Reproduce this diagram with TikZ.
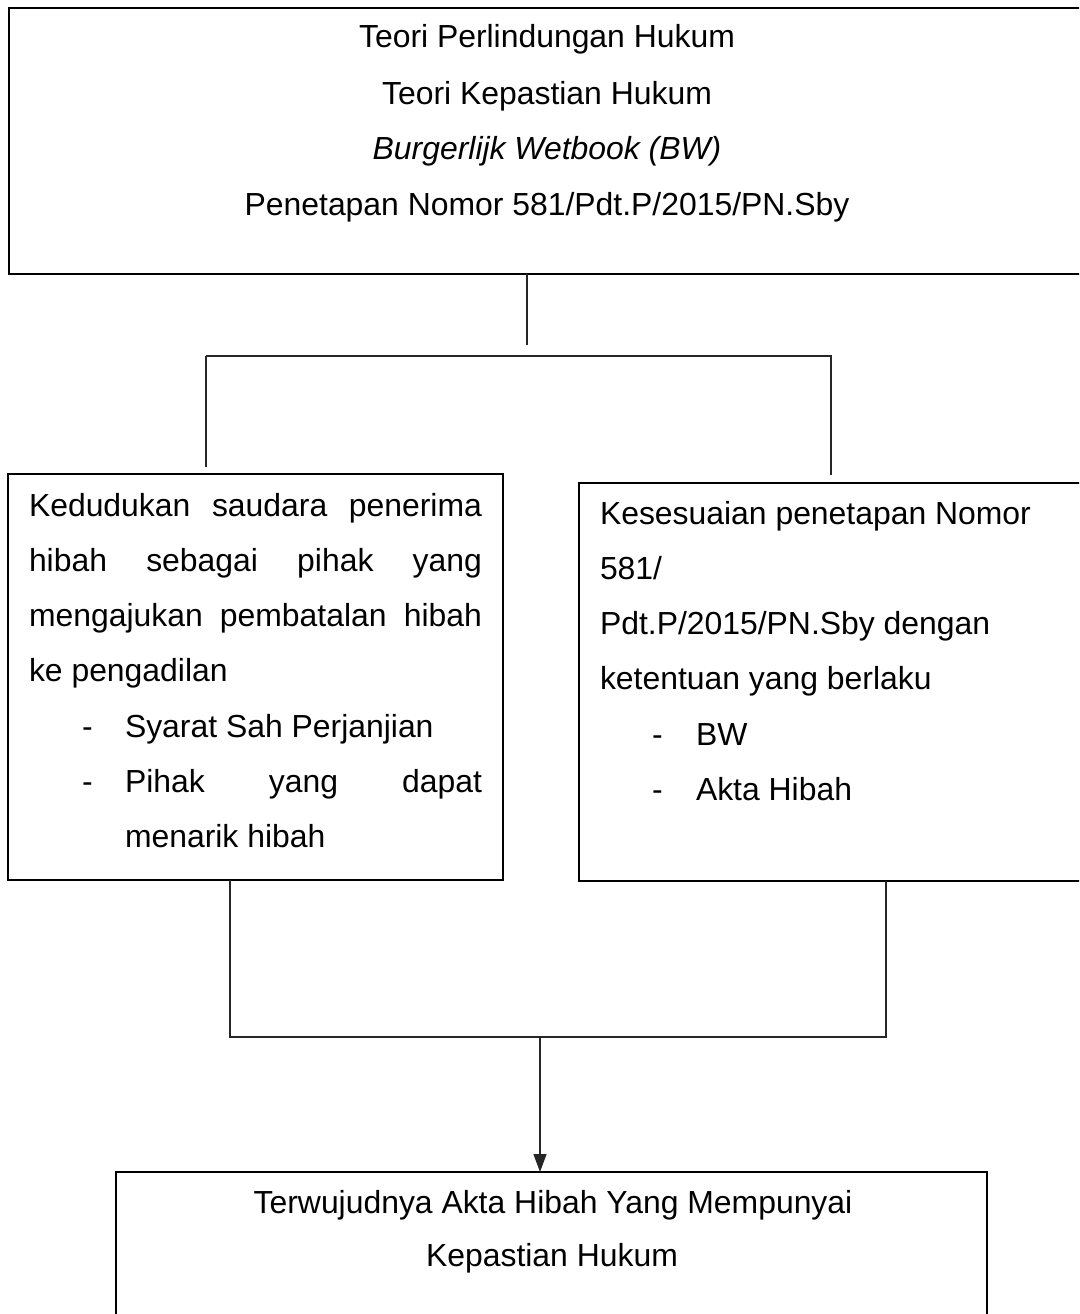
\documentclass[tikz,border=0pt]{standalone}
\usepackage{fontspec}
\setmainfont{Liberation Sans}
\usetikzlibrary{arrows.meta,calc}
\begin{document}
\begin{tikzpicture}[x=1pt,y=-1pt,
  box/.style={draw=black,line width=2.6pt,inner sep=0pt,outer sep=0pt,rectangle},
  conn/.style={draw=black!85,line width=1.3pt},
  txt/.style={inner sep=0pt,outer sep=0pt,anchor=base west,font=\fontsize{31.9}{38}\selectfont},
  ctxt/.style={inner sep=0pt,outer sep=0pt,anchor=base,font=\fontsize{31.9}{38}\selectfont}]
\useasboundingbox (0,0) rectangle (1079,1314);
\clip (0,0) rectangle (1079,1314);
\fill[white] (0,0) rectangle (1079,1314);
% boxes
\node[box,minimum width=1081pt,minimum height=266pt] (top) at (549.5,141) {};
\node[box,minimum width=495pt,minimum height=406pt] (lbox) at (255.5,677) {};
\node[box,minimum width=511pt,minimum height=398pt] (rbox) at (834.5,682) {};
\node[box,minimum width=871pt,minimum height=158pt] (bot) at (551.5,1251) {};
% top box text
\node[ctxt] (t1) at (547,48) {Teori Perlindungan Hukum};
\node[ctxt] (t2) at (547,104) {Teori Kepastian Hukum};
\node[ctxt] (t3) at (547,159) {\itshape Burgerlijk Wetbook (BW)};
\node[ctxt] (t4) at (547,215) {Penetapan Nomor 581/Pdt.P/2015/PN.Sby};
% left box text
\node[txt] (l1) at (29,516) {\makebox[453pt][s]{Kedudukan saudara penerima}};
\node[txt] (l2) at (29,571.3) {\makebox[453pt][s]{hibah sebagai pihak yang}};
\node[txt] (l3) at (29,626.6) {\makebox[453pt][s]{mengajukan pembatalan hibah}};
\node[txt] (l4) at (29,681.9) {ke pengadilan};
\node[txt] (ld1) at (82,737.2) {-};
\node[txt] (l5) at (125,737.2) {Syarat Sah Perjanjian};
\node[txt] (ld2) at (82,792.5) {-};
\node[txt] (l6) at (125,792.5) {\makebox[357pt][s]{Pihak yang dapat}};
\node[txt] (l7) at (125,847.8) {menarik hibah};
% right box text
\node[txt] (r1) at (600,524) {Kesesuaian penetapan Nomor};
\node[txt] (r2) at (600,579.3) {581/};
\node[txt] (r3) at (600,634.6) {Pdt.P/2015/PN.Sby dengan};
\node[txt] (r4) at (600,689.9) {ketentuan yang berlaku};
\node[txt] (rd1) at (652,745.2) {-};
\node[txt] (r5) at (696,745.2) {BW};
\node[txt] (rd2) at (652,800.5) {-};
\node[txt] (r6) at (696,800.5) {Akta Hibah};
% bottom box text
\node[ctxt] (b1) at (553,1213) {Terwujudnya Akta Hibah Yang Mempunyai};
\node[ctxt] (b2) at (552,1266) {Kepastian Hukum};
% connector coordinates
\coordinate (a1) at (527,345);
\coordinate (hl) at (206,356);
\coordinate (hr) at (832,356);
\coordinate (vl) at (206,467);
\coordinate (vr) at (831,475);
\coordinate (jl) at (230,1037);
\coordinate (jr) at (886,1037);
\coordinate (jm) at (540,1037);
% connectors
\draw[conn] (top.south -| a1) -- (a1);
\draw[conn] (hl) -- (hr);
\draw[conn] (hl) -- (vl);
\draw[conn] (hr -| vr) -- (vr);
\draw[conn] (lbox.south -| jl) -- (jl) -- (jr) -- (rbox.south -| jr);
\draw[conn,-{Triangle[length=18pt,width=13pt]}] (jm) -- (bot.north -| jm);
\end{tikzpicture}
\end{document}
